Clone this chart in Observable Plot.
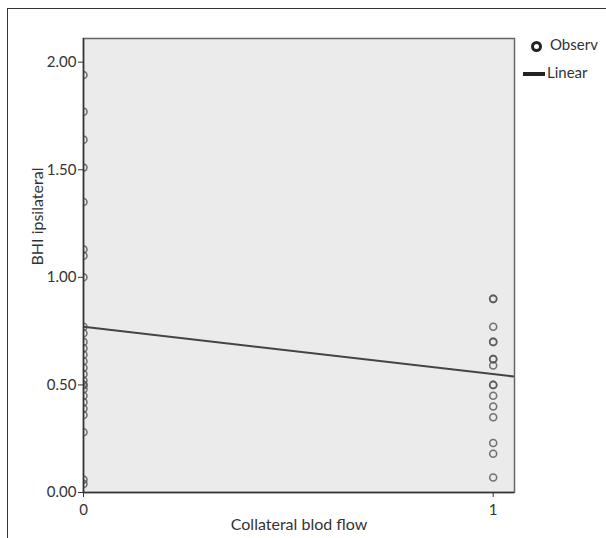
<!DOCTYPE html>
<html>
<head>
<meta charset="utf-8">
<script src="https://cdn.jsdelivr.net/npm/d3@7"></script>
<script src="https://cdn.jsdelivr.net/npm/@observablehq/plot@0.6"></script>
<style>
  html, body { margin: 0; padding: 0; background: #fff; }
  #wrap { position: relative; width: 606px; height: 538px; overflow: hidden; font-family: Lato, "Noto Sans", sans-serif; }
  #frame { position: absolute; left: 7px; top: 8px; width: 620px; height: 560px; border-top: 1.5px solid #333; border-left: 1.5px solid #333; }
  #chart { position: absolute; left: 0; top: 0; }
  .leg { position: absolute; font-size: 15px; color: #333; }
</style>
</head>
<body>
<div id="wrap">
  <div id="frame"></div>
  <div id="chart"></div>
  <div class="leg" style="left:531px; top:35px;"><span style="display:inline-block;width:5px;height:5px;border:3px solid #222;border-radius:50%;vertical-align:middle;margin-right:8px;"></span>Observ</div>
  <div class="leg" style="left:523px; top:63px;"><span style="display:inline-block;width:22px;height:4px;background:#222;vertical-align:middle;margin-right:2px;"></span>Linear</div>
</div>
<script>
// Data
const groups = [0, 1];
const group0Values = [1.94, 1.77, 1.64, 1.51, 1.35, 1.13, 1.10, 1.00, 0.77, 0.74, 0.70, 0.67, 0.64, 0.61, 0.58, 0.55, 0.52, 0.50, 0.50, 0.48, 0.45, 0.42, 0.39, 0.36, 0.28, 0.06, 0.04];
const group1Values = [0.90, 0.90, 0.77, 0.70, 0.70, 0.62, 0.62, 0.59, 0.50, 0.50, 0.45, 0.40, 0.35, 0.23, 0.18, 0.07];
const fitIntercept = 0.77;
const fitSlope = -0.22;
const yTicks = [0, 0.5, 1, 1.5, 2];
const xTicks = [0, 1];
const xDomain = [0, 1.052];
const yDomain = [0, 2.11];
const xLabel = "Collateral blod flow";
const yLabel = "BHI ipsilateral";

const points = [
  ...group0Values.map(v => ({x: groups[0], y: v})),
  ...group1Values.map(v => ({x: groups[1], y: v}))
];
const fitLine = xDomain.map(x => ({x, y: fitIntercept + fitSlope * x}));

const chart = Plot.plot({
  width: 606,
  height: 538,
  marginLeft: 83,
  marginRight: 92,
  marginTop: 38,
  marginBottom: 46,
  style: {fontFamily: "Lato, 'Noto Sans', sans-serif", fontSize: "15px", color: "#333", background: "transparent"},
  x: {domain: xDomain},
  y: {domain: yDomain},
  marks: [
    Plot.frame({fill: "#ebebeb", stroke: "none"}),
    Plot.line(fitLine, {x: "x", y: "y", stroke: "#444", strokeWidth: 2, clip: true}),
    Plot.dot(points, {x: "x", y: "y", r: 3.5, stroke: "#555", strokeWidth: 1.6, strokeOpacity: 0.8, fill: "none", clip: true}),
    Plot.frame({stroke: "#666", strokeWidth: 1.5}),
    Plot.ruleX([0], {stroke: "#333", strokeWidth: 1.5}),
    Plot.ruleY([0], {stroke: "#333", strokeWidth: 1.5}),
    Plot.axisY({ticks: yTicks, tickFormat: d3.format(".2f"), tickSize: 5, tickPadding: 2, stroke: "#333", label: null, fontSize: 15}),
    Plot.axisX({ticks: xTicks, tickFormat: d3.format("d"), tickSize: 5, tickPadding: 7, stroke: "#333", label: null, fontSize: 15}),
    Plot.text([yLabel], {frameAnchor: "left", dx: -46, rotate: -90, fontSize: 16, fill: "#333"}),
    Plot.text([xLabel], {frameAnchor: "bottom", dy: 37, fontSize: 16, fill: "#333"})
  ]
});
document.getElementById("chart").appendChild(chart);
</script>
</body>
</html>
